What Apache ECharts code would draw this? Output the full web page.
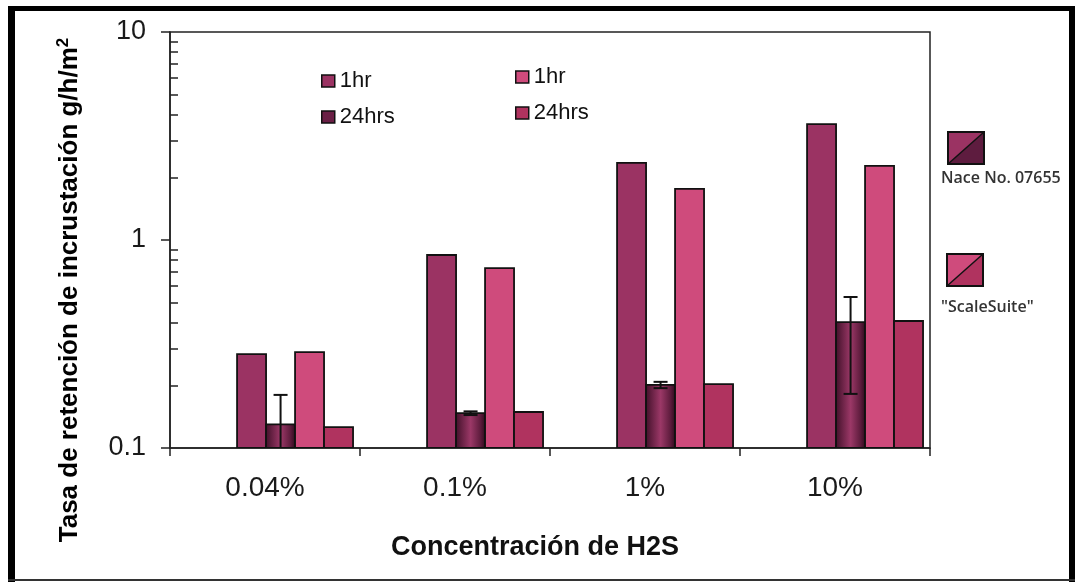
<!DOCTYPE html>
<html>
<head>
<meta charset="utf-8">
<script src="https://cdn.jsdelivr.net/npm/echarts@6/dist/echarts.min.js"></script>
<style>
html,body{margin:0;padding:0;background:#fff;}
#chart{width:1075px;height:582px;}
</style>
</head>
<body>
<div id="chart"></div>
<script>
// ---- data ----
const categories = ['0.04%', '0.1%', '1%', '10%'];
const nace1hr = [0.283, 0.847, 2.35, 3.61];
const nace24hrs = [0.130, 0.147, 0.201, 0.403];
const nace24ErrLow = [0.09, 0.144, 0.194, 0.182];
const nace24ErrHigh = [0.18, 0.150, 0.208, 0.532];
const scale1hr = [0.289, 0.733, 1.76, 2.27];
const scale24hrs = [0.126, 0.149, 0.203, 0.408];
const yTickValues = [0.1, 1, 10];
const yMinorTicks = [0.2, 0.3, 0.4, 0.5, 0.6, 0.7, 0.8, 0.9, 2, 3, 4, 5, 6, 7, 8, 9];

// ---- styling ----
const C_N1 = '#9b3363';
const C_S1 = '#cf4b7c';
const C_S24 = '#b0335f';
const C_N24_SOLID = '#6a1f45';
const BAR_START = 0.353;
const BAR_STEP = 0.1526;

const chart = echarts.init(document.getElementById('chart'));

const n24Gradient = new echarts.graphic.LinearGradient(0, 0, 1, 0, [
  {offset: 0, color: '#3e0f27'},
  {offset: 0.5, color: '#9b3867'},
  {offset: 0.82, color: '#5e1c3d'},
  {offset: 1, color: '#2a0819'}
]);

function toPairs(arr) { return arr.map((v, i) => [i, v]); }

function barRender(k, fill) {
  return function (params, api) {
    const idx = api.value(0);
    const val = api.value(1);
    const band = api.size([1, 0])[0];
    const p = api.coord([idx, val]);
    const cs = params.coordSys;
    const bottom = cs.y + cs.height;
    const left = p[0] - band / 2 + band * (BAR_START + k * BAR_STEP);
    return {
      type: 'rect',
      shape: {x: left, y: p[1], width: band * BAR_STEP, height: bottom - p[1]},
      style: {fill: fill, stroke: '#111', lineWidth: 1.8}
    };
  };
}

function errRender(params, api) {
  const idx = api.value(0);
  const band = api.size([1, 0])[0];
  const lo = api.coord([idx, api.value(1)]);
  const hi = api.coord([idx, api.value(2)]);
  const x = lo[0] - band / 2 + band * (BAR_START + 1.5 * BAR_STEP);
  const cap = 7;
  const st = {stroke: '#111', lineWidth: 2};
  return {
    type: 'group',
    children: [
      {type: 'line', shape: {x1: x, y1: lo[1], x2: x, y2: hi[1]}, style: st},
      {type: 'line', shape: {x1: x - cap, y1: hi[1], x2: x + cap, y2: hi[1]}, style: st},
      {type: 'line', shape: {x1: x - cap, y1: lo[1], x2: x + cap, y2: lo[1]}, style: st}
    ]
  };
}

function customBar(name, k, data, fill, legendColor) {
  return {
    name: name,
    type: 'custom',
    renderItem: barRender(k, fill),
    data: toPairs(data),
    encode: {x: 0, y: 1},
    itemStyle: {color: legendColor},
    clip: true,
    z: 2
  };
}

const legendText = {fontFamily: 'Liberation Sans, Arial, sans-serif', fontSize: 22, color: '#111', lineHeight: 24};

const option = {
  animation: false,
  backgroundColor: '#fff',
  grid: {left: 170, right: 145, top: 32, bottom: 134, show: true, borderColor: '#222', borderWidth: 1.5, backgroundColor: 'transparent'},
  xAxis: {
    type: 'category',
    data: categories,
    axisLine: {lineStyle: {color: '#222', width: 1.5}},
    axisTick: {show: true, length: 8, lineStyle: {color: '#222', width: 1.5}},
    axisLabel: {fontFamily: 'Liberation Sans Narrow, Arial Narrow, Liberation Sans, sans-serif', fontSize: 28, color: '#1a1a1a', margin: 26},
    splitLine: {show: false}
  },
  yAxis: [
    {
      type: 'log',
      logBase: 10,
      min: 0.1,
      max: 10,
      axisLine: {show: true, lineStyle: {color: '#222', width: 1.5}},
      axisTick: {show: true, length: 9, lineStyle: {color: '#222', width: 1.5}},
      axisLabel: {
        fontFamily: 'Liberation Sans, Arial, sans-serif', fontSize: 27, color: '#1a1a1a', margin: 24,
        formatter: function (v) { return String(+v.toPrecision(3)); }
      },
      splitLine: {show: false}
    },
    {
      type: 'log',
      logBase: 10,
      min: 0.1,
      max: 10,
      position: 'left',
      axisLine: {show: false},
      axisLabel: {show: false},
      axisTick: {show: true, inside: true, length: 8, customValues: yMinorTicks, lineStyle: {color: '#222', width: 1.5}},
      splitLine: {show: false}
    }
  ],
  legend: [
    {
      orient: 'vertical', left: 316, top: 64, itemWidth: 13, itemHeight: 12, itemGap: 12,
      selectedMode: false, icon: 'rect', textStyle: legendText,
      formatter: n => n.replace(/^\S+ /, ''),
      data: [
        {name: 'Nace 1hr', itemStyle: {color: C_N1, borderColor: '#111', borderWidth: 1.5}},
        {name: 'Nace 24hrs', itemStyle: {color: C_N24_SOLID, borderColor: '#111', borderWidth: 1.5}}
      ]
    },
    {
      orient: 'vertical', left: 510, top: 60, itemWidth: 13, itemHeight: 12, itemGap: 12,
      selectedMode: false, icon: 'rect', textStyle: legendText,
      formatter: n => n.replace(/^\S+ /, ''),
      data: [
        {name: 'ScaleSuite 1hr', itemStyle: {color: C_S1, borderColor: '#111', borderWidth: 1.5}},
        {name: 'ScaleSuite 24hrs', itemStyle: {color: C_S24, borderColor: '#111', borderWidth: 1.5}}
      ]
    }
  ],
  series: [
    customBar('Nace 1hr', 0, nace1hr, C_N1, C_N1),
    customBar('Nace 24hrs', 1, nace24hrs, n24Gradient, C_N24_SOLID),
    customBar('ScaleSuite 1hr', 2, scale1hr, C_S1, C_S1),
    customBar('ScaleSuite 24hrs', 3, scale24hrs, C_S24, C_S24),
    {
      name: 'Nace 24hrs error',
      type: 'custom',
      renderItem: errRender,
      data: nace24hrs.map((v, i) => [i, nace24ErrLow[i], nace24ErrHigh[i]]),
      encode: {x: 0, y: [1, 2]},
      clip: true,
      z: 3
    }
  ],
  graphic: [
    // outer frame
    {type: 'rect', shape: {x: 8, y: 6, width: 7, height: 576}, style: {fill: '#000'}, silent: true},
    {type: 'rect', shape: {x: 8, y: 6, width: 1067, height: 5}, style: {fill: '#000'}, silent: true},
    {type: 'rect', shape: {x: 1069, y: 6, width: 6, height: 576}, style: {fill: '#000'}, silent: true},
    {type: 'rect', shape: {x: 8, y: 579, width: 1067, height: 2}, style: {fill: '#333'}, silent: true},
    // axis titles
    {
      type: 'text', x: 70, y: 290, rotation: Math.PI / 2, silent: true,
      style: {
        text: '{a|Tasa de retención de incrustación g/h/m}{s|2}',
        align: 'center', verticalAlign: 'middle',
        rich: {
          a: {fontFamily: 'Liberation Sans, Arial, sans-serif', fontWeight: 'bold', fontSize: 26, color: '#111', lineHeight: 30},
          s: {fontFamily: 'Liberation Sans, Arial, sans-serif', fontWeight: 'bold', fontSize: 17, color: '#111', verticalAlign: 'top', lineHeight: 16}
        }
      }
    },
    {
      type: 'text', x: 535, y: 548, silent: true,
      style: {text: 'Concentración de H2S', align: 'center', verticalAlign: 'middle',
        fontFamily: 'Liberation Sans, Arial, sans-serif', fontWeight: 'bold', fontSize: 27, fill: '#111'}
    },
    // right side key boxes
    {type: 'polygon', shape: {points: [[948, 132], [984, 132], [948, 164]]}, style: {fill: C_N1}, silent: true},
    {type: 'polygon', shape: {points: [[984, 132], [984, 164], [948, 164]]}, style: {fill: '#5e1c3f'}, silent: true},
    {type: 'rect', shape: {x: 948, y: 132, width: 36, height: 32}, style: {fill: 'none', stroke: '#111', lineWidth: 2}, silent: true},
    {type: 'line', shape: {x1: 948, y1: 164, x2: 984, y2: 132}, style: {stroke: '#111', lineWidth: 1.5}, silent: true},
    {type: 'text', x: 941, y: 178, silent: true,
      style: {text: 'Nace No. 07655', align: 'left', verticalAlign: 'middle', fontFamily: 'Open Sans, sans-serif', fontWeight: 600, fontSize: 16, fill: '#333'}},
    {type: 'polygon', shape: {points: [[947, 254], [983, 254], [947, 286]]}, style: {fill: C_S1}, silent: true},
    {type: 'polygon', shape: {points: [[983, 254], [983, 286], [947, 286]]}, style: {fill: C_S24}, silent: true},
    {type: 'rect', shape: {x: 947, y: 254, width: 36, height: 32}, style: {fill: 'none', stroke: '#111', lineWidth: 2}, silent: true},
    {type: 'line', shape: {x1: 947, y1: 286, x2: 983, y2: 254}, style: {stroke: '#111', lineWidth: 1.5}, silent: true},
    {type: 'text', x: 941, y: 307, silent: true,
      style: {text: '"ScaleSuite"', align: 'left', verticalAlign: 'middle', fontFamily: 'Open Sans, sans-serif', fontWeight: 600, fontSize: 16, fill: '#333'}}
  ]
};

chart.setOption(option);
</script>
</body>
</html>
